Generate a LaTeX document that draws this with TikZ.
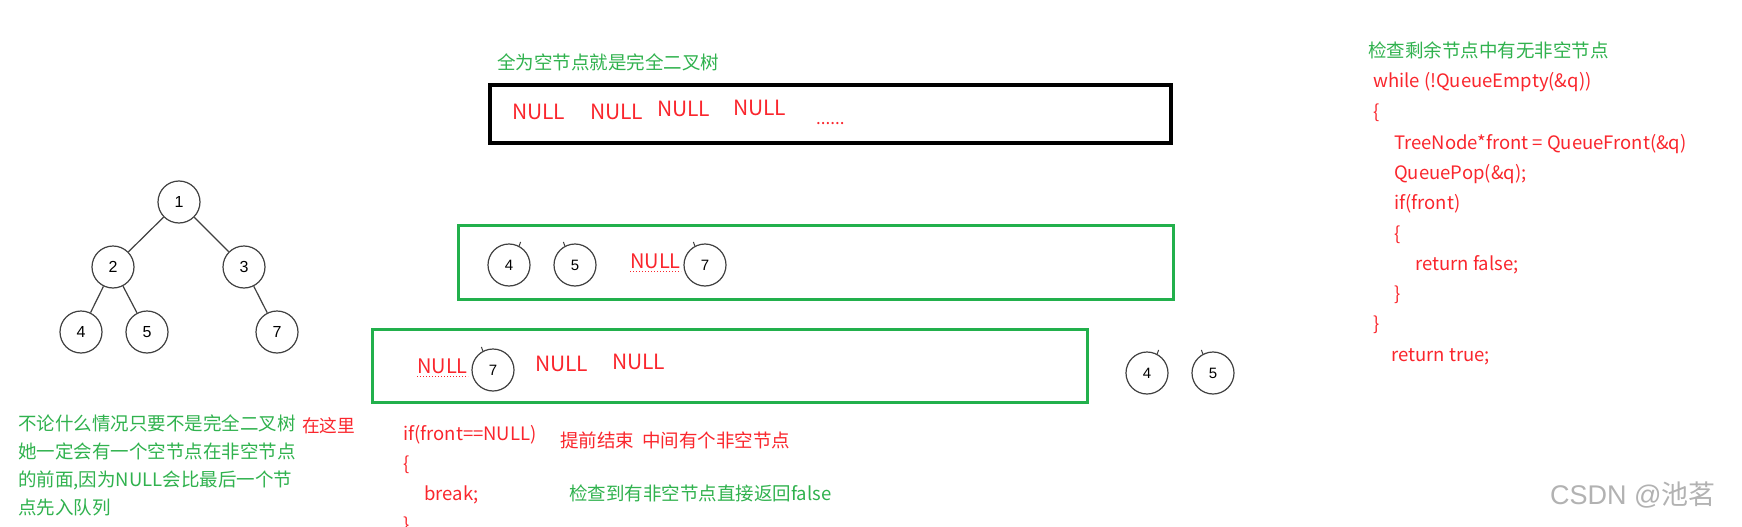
\documentclass[tikz,border=0pt]{standalone}
\usepackage{fontspec}
\usepackage{tikz}
\usetikzlibrary{calc}
\newfontfamily\cjk{Noto Sans CJK SC}
\newfontfamily\arial{Liberation Sans}
\definecolor{notered}{RGB}{250,38,45}
\definecolor{notegreen}{RGB}{48,178,78}
\definecolor{boxgreen}{RGB}{34,176,76}

\begin{document}
\begin{tikzpicture}[x=1pt,y=-1pt,
  treenode/.style={circle,draw=black!75,line width=1.2pt,minimum size=42pt,inner sep=0pt,
                   font=\arial\fontsize{16}{16}\selectfont},
  qnode/.style={treenode,font=\arial\fontsize{15}{15}\selectfont},
  nulltxt/.style={anchor=base west,inner sep=0pt,text=notered,font=\cjk\fontsize{21}{21}\selectfont},
  redtxt/.style={anchor=base west,inner sep=0pt,text=notered,font=\cjk\fontsize{18.5}{18.5}\selectfont},
  greentxt/.style={anchor=base west,inner sep=0pt,text=notegreen,font=\cjk\fontsize{18.5}{18.5}\selectfont},
  tick/.style={draw=black!75,line width=1pt},
  edge/.style={draw=black!75,line width=1.2pt}]

  \useasboundingbox[fill=white] (0,0) rectangle (1742,527);

  % the tree
  \node[treenode] (n1) at (179,202) {1};
  \node[treenode] (n2) at ($ (n1) + (-66,65) $) {2};
  \node[treenode] (n3) at ($ (n1) + (65,65) $)  {3};
  \node[treenode] (n4) at ($ (n2) + (-32,65) $) {4};
  \node[treenode] (n5) at ($ (n2) + (34,65) $)  {5};
  \node[treenode] (n7) at ($ (n3) + (33,65) $)  {7};

  \path[edge]
        (n1) -- (n2)
        (n1) -- (n3)
        (n2) -- (n4)
        (n2) -- (n5)
        (n3) -- (n7);

  % left note
  \node[greentxt] (why1) at (18,430) {不论什么情况只要不是完全二叉树};
  \node[greentxt] (why2) at (18,458) {她一定会有一个空节点在非空节点};
  \node[greentxt] (why3) at (18,486) {的前面,因为NULL会比最后一个节};
  \node[greentxt] (why4) at (18,514) {点先入队列};
  \node[redtxt, font=\cjk\fontsize{17.7}{17.7}\selectfont] (here) at (302,432) {在这里};

  % all null queue
  \node[greentxt] (allnull) at (497,70) {全为空节点就是完全二叉树};
  \draw[line width=4pt] (490,85) rectangle (1171,143);
  \node[nulltxt] (a1) at (512,119) {NULL};
  \node[nulltxt] (a2) at (590,119) {NULL};
  \node[nulltxt] (a3) at (657,116) {NULL};
  \node[nulltxt] (a4) at (733,115) {NULL};
  \node[nulltxt, font=\cjk\fontsize{17}{17}\selectfont] (dots) at (816,124) {......};

  % queue after 1 2 3
  \draw[boxgreen, line width=3pt] (458.5,225.5) rectangle (1173.5,299.5);
  \node[qnode] (q4) at (509,265) {4};
  \node[qnode] (q5) at (575,265) {5};
  \node[nulltxt, font=\cjk\fontsize{20}{20}\selectfont] (qn) at (630,268) {NULL};
  \node[qnode] (q7) at (705,265) {7};
  \draw[notered, dotted, line width=1pt] ($ (qn.base west) + (0,3) $) -- ($ (qn.base east) + (0,3) $);
  \draw[tick] (q4.62)  -- ++(1.5,-4);
  \draw[tick] (q5.118) -- ++(-1.5,-4);
  \draw[tick] (q7.118) -- ++(-1.5,-4);

  % queue after 4 5
  \draw[boxgreen, line width=3pt] (372.5,329.5) rectangle (1087.5,402.5);
  \node[nulltxt, font=\cjk\fontsize{20}{20}\selectfont] (b1) at (417,373) {NULL};
  \node[qnode] (b7) at (493,370) {7};
  \node[nulltxt] (b2) at (535,371) {NULL};
  \node[nulltxt] (b3) at (612,369) {NULL};
  \draw[notered, dotted, line width=1pt] ($ (b1.base west) + (0,3) $) -- ($ (b1.base east) + (0,3) $);
  \draw[tick] (b7.118) -- ++(-1.5,-4);

  \node[qnode] (o4) at (1147,373) {4};
  \node[qnode] (o5) at (1213,373) {5};
  \draw[tick] (o4.62)  -- ++(1.5,-4);
  \draw[tick] (o5.118) -- ++(-1.5,-4);

  % first loop
  \node[redtxt] (c1) at (403,440) {if(front==NULL)};
  \node[redtxt] (c2) at (403,470) {\{};
  \node[redtxt] (c3) at (424,500) {break;};
  \node[redtxt] (c4) at (403,531) {\}};
  \node[redtxt] (stop) at (560,447) {提前结束\ \ 中间有个非空节点};
  \node[greentxt] (found) at (569,500) {检查到有非空节点直接返回false};

  % second loop
  \node[greentxt] (rest) at (1368,57) {检查剩余节点中有无非空节点};
  \node[redtxt] (r1) at (1373,88)  {while (!QueueEmpty(\&q))};
  \node[redtxt] (r2) at (1373,118) {\{};
  \node[redtxt] (r3) at (1394,149) {TreeNode*front = QueueFront(\&q)};
  \node[redtxt] (r4) at (1394,179) {QueuePop(\&q);};
  \node[redtxt] (r5) at (1394,209) {if(front)};
  \node[redtxt] (r6) at (1394,240) {\{};
  \node[redtxt] (r7) at (1415,270) {return false;};
  \node[redtxt] (r8) at (1394,300) {\}};
  \node[redtxt] (r9) at (1373,330) {\}};
  \node[redtxt] (r10) at (1391,361) {return true;};

  % watermark
  \node[anchor=base west, inner sep=0pt, text=black!30, font=\arial\fontsize{27}{27}\selectfont]
        (mark) at (1550,504) {CSDN @{\cjk 池茗}};
\end{tikzpicture}
\end{document}
